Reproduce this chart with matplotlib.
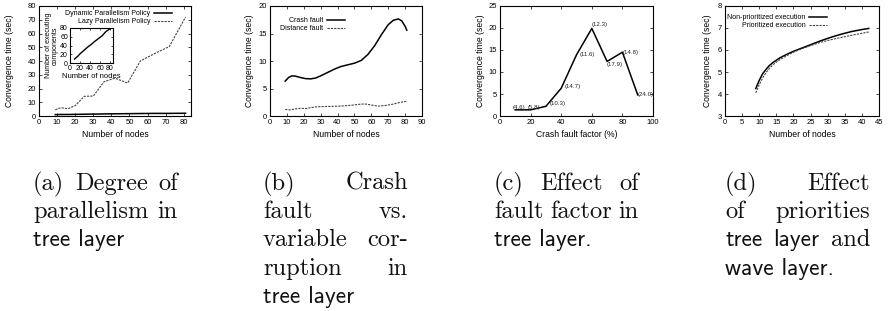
import numpy as np
import matplotlib.pyplot as plt

# ---------------- data ----------------
# (a) degree of parallelism
nodes_a = [9, 12, 16, 20, 25, 30, 36, 42, 49, 56, 64, 72, 81]
dynamic_policy = [1.0, 1.1, 1.1, 1.2, 1.3, 1.4, 1.5, 1.6, 1.7, 1.8, 1.9, 1.9, 2.0]
lazy_policy = [4.5, 6.0, 5.3, 7.5, 14.3, 14.5, 25.0, 27.5, 24.0, 40.0, 45.5, 50.5, 72.0]
executing_components = [9, 12, 16, 21, 26, 31, 37, 42, 49, 55, 62, 72, 79]

# (b) crash fault vs distance fault
nodes_b_crash = [9, 11, 13, 15, 18, 21, 24, 27, 30, 34, 38, 42, 46, 50, 54, 58,
                 62, 66, 70, 73, 76, 78, 80, 81]
crash_fault = [6.35, 7.0, 7.3, 7.25, 7.0, 6.8, 6.75, 6.9, 7.3, 7.9, 8.5, 9.0, 9.3,
               9.6, 10.1, 11.2, 12.8, 14.8, 16.6, 17.4, 17.65, 17.3, 16.3, 15.6]
nodes_b_dist = [9, 12, 15, 18, 21, 24, 27, 30, 36, 42, 48, 52, 56, 60, 64, 68, 72, 76, 81]
distance_fault = [1.2, 1.1, 1.3, 1.4, 1.35, 1.5, 1.65, 1.7, 1.75, 1.8, 1.95, 2.1,
                  2.2, 2.0, 1.8, 1.9, 2.1, 2.4, 2.7]

# (c) fault factor
fault_factor = [10, 20, 30, 40, 50, 60, 70, 80, 90]
conv_fault = [1.4, 1.4, 2.2, 6.3, 13.9, 19.9, 12.4, 14.5, 4.8]
fault_labels = ["(4.6)", "(5.8)", "(10.3)", "(14.7)", "(11.6)", "(12.3)", "(17.9)", "(14.8)", "(24.0)"]

# (d) priorities
nodes_d = [9, 10, 11, 12, 13, 14, 16, 18, 20, 22, 25, 28, 31, 34, 37, 40, 42]
non_prioritized = [4.25, 4.62, 4.92, 5.12, 5.3, 5.43, 5.64, 5.8, 5.94, 6.06, 6.24,
                   6.42, 6.58, 6.72, 6.84, 6.93, 6.98]
prioritized = [4.05, 4.42, 4.73, 4.97, 5.17, 5.33, 5.56, 5.74, 5.9, 6.03, 6.2,
               6.35, 6.47, 6.57, 6.67, 6.76, 6.82]

# ---------------- figure ----------------
plt.rcParams['font.family'] = ['Liberation Sans', 'DejaVu Sans']
W, H = 888, 311
fig = plt.figure(figsize=(W / 100, H / 100), dpi=100)

SERIF = 'cmr10'
SANS = 'cmss10'
DASH = (0, (2.0, 1.0))


def px_axes(l, r, t, b):
    return fig.add_axes([l / W, 1 - b / H, (r - l) / W, (b - t) / H])


def gnu_style(ax, ylab_dx, tick=5.5):
    ax.tick_params(direction='in', top=True, right=True, length=2.5, width=0.5,
                   labelsize=tick, pad=2)
    for s in ax.spines.values():
        s.set_linewidth(0.8)
    bb = ax.get_position()
    ax.set_ylabel("Convergence time (sec)", fontsize=6.2)
    ax.yaxis.set_label_coords(-ylab_dx / (bb.width * W), 0.5)
    ax.xaxis.set_label_coords(0.5, -14 / (bb.height * H))


def gnu_legend(ax, x_px, y_px):
    bb = ax.get_position()
    l = bb.x0 * W
    b = (1 - bb.y0) * H
    leg = ax.legend(loc='upper right', frameon=False, markerfirst=False, fontsize=5,
                    handlelength=2.6, handletextpad=0.5, labelspacing=0.15,
                    borderpad=0, borderaxespad=0,
                    bbox_to_anchor=((x_px - l) / (bb.width * W), (b - y_px) / (bb.height * H)))
    return leg


# (a)
ax = px_axes(39, 191, 6, 116)
ax.plot(nodes_a, dynamic_policy, color='black', lw=1.1, label="Dynamic Parallelism Policy")
ax.plot(nodes_a, lazy_policy, color='#444444', lw=0.8, ls=DASH, label="Lazy Parallelism Policy")
ax.set_xlim(0, 84)
ax.set_ylim(0, 80)
ax.set_xticks(range(0, 81, 10))
ax.set_yticks(range(0, 81, 10))
ax.set_xlabel("Number of nodes", fontsize=6.2)
gnu_style(ax, 25)
gnu_legend(ax, 172, 10)

ins = px_axes(70, 113, 28, 63)
ins.plot(nodes_a, executing_components, color='black', lw=1.0)
ins.set_xlim(0, 86)
ins.set_ylim(0, 80)
ins.set_xticks(range(0, 81, 20))
ins.set_yticks(range(0, 81, 20))
ins.tick_params(direction='in', top=True, right=True, length=1.5, width=0.5,
                labelsize=5, pad=1.5)
for s in ins.spines.values():
    s.set_linewidth(0.8)
ins.set_xlabel("Number of nodes", fontsize=5.5, labelpad=1)
ins.set_ylabel("Number of executing\ncomponents", fontsize=5, labelpad=1, linespacing=0.9)

# (b)
ax = px_axes(270, 422, 6, 116)
ax.plot(nodes_b_crash, crash_fault, color='black', lw=1.1, label="Crash fault")
ax.plot(nodes_b_dist, distance_fault, color='#444444', lw=0.8, ls=DASH, label="Distance fault")
ax.set_xlim(0, 90)
ax.set_ylim(0, 20)
ax.set_xticks(range(0, 91, 10))
ax.set_yticks(range(0, 21, 5))
ax.set_xlabel("Number of nodes", fontsize=6.2)
gnu_style(ax, 16)
gnu_legend(ax, 345, 17)

# (c)
ax = px_axes(500, 653, 6, 116)
ax.plot(fault_factor, conv_fault, color='black', lw=1.1)
label_offsets = [(-2, 2), (-2, 2), (3, 2), (2.5, 1.5), (2, 0), (0, 2.5), (0, -2), (0.5, 0), (0, 0)]
for xv, yv, txt, off in zip(fault_factor, conv_fault, fault_labels, label_offsets):
    ax.annotate(txt, (xv, yv), xytext=off, textcoords='offset points',
                fontsize=4.4, ha='left', va='center', color='#222222')
ax.set_xlim(0, 100)
ax.set_ylim(0, 25)
ax.set_xticks(range(0, 101, 20))
ax.set_yticks(range(0, 26, 5))
ax.set_xlabel("Crash fault factor (%)", fontsize=6.2)
gnu_style(ax, 15)

# (d)
ax = px_axes(725, 879, 6, 116)
ax.plot(nodes_d, non_prioritized, color='black', lw=1.1, label="Non-prioritized execution")
ax.plot(nodes_d, prioritized, color='#444444', lw=0.8, ls=DASH, label="Prioritized execution")
ax.set_xlim(0, 45)
ax.set_ylim(3, 8)
ax.set_xticks(range(0, 46, 5))
ax.set_yticks(range(3, 9))
ax.set_xlabel("Number of nodes", fontsize=6.2)
gnu_style(ax, 13)
gnu_legend(ax, 827, 14)

# ---------------- captions (justified, LaTeX-like) ----------------
SERIF_SIZE = 17.6
SANS_SIZE = 16.9
LINE_PX = 28.2
FIRST_BASE = 190

captions = [
    (33, [[("(a)", SERIF), ("Degree", SERIF), ("of", SERIF)],
          [("parallelism", SERIF), ("in", SERIF)],
          [("tree layer", SANS)]]),
    (263, [[("(b)", SERIF), ("Crash", SERIF)],
           [("fault", SERIF), ("vs.", SERIF)],
           [("variable", SERIF), ("cor-", SERIF)],
           [("ruption", SERIF), ("in", SERIF)],
           [("tree layer", SANS)]]),
    (494, [[("(c)", SERIF), ("Effect", SERIF), ("of", SERIF)],
           [("fault", SERIF), ("factor", SERIF), ("in", SERIF)],
           [("tree layer.", SANS)]]),
    (725, [[("(d)", SERIF), ("Effect", SERIF)],
           [("of", SERIF), ("priorities", SERIF)],
           [("tree", SANS), ("layer", SANS), ("and", SERIF)],
           [("wave layer.", SANS)]]),
]
COL_W = 145

renderer = fig.canvas.get_renderer()
for x0, lines in captions:
    for i, words in enumerate(lines):
        ybase = FIRST_BASE + i * LINE_PX
        texts = [fig.text(0, 1 - ybase / H, w, fontfamily=fam,
                          fontsize=SERIF_SIZE if fam == SERIF else SANS_SIZE,
                          va='baseline', ha='left', color='#111111') for w, fam in words]
        widths = [t.get_window_extent(renderer).width for t in texts]
        last = (i == len(lines) - 1)
        if not last and len(texts) > 1:
            gap = (COL_W - sum(widths)) / (len(texts) - 1)
        else:
            gap = SANS_SIZE * 1.389 * 0.33
        x = x0
        for t, wd in zip(texts, widths):
            t.set_x(x / W)
            x += wd + gap

fig.savefig("out.png", dpi=100)
